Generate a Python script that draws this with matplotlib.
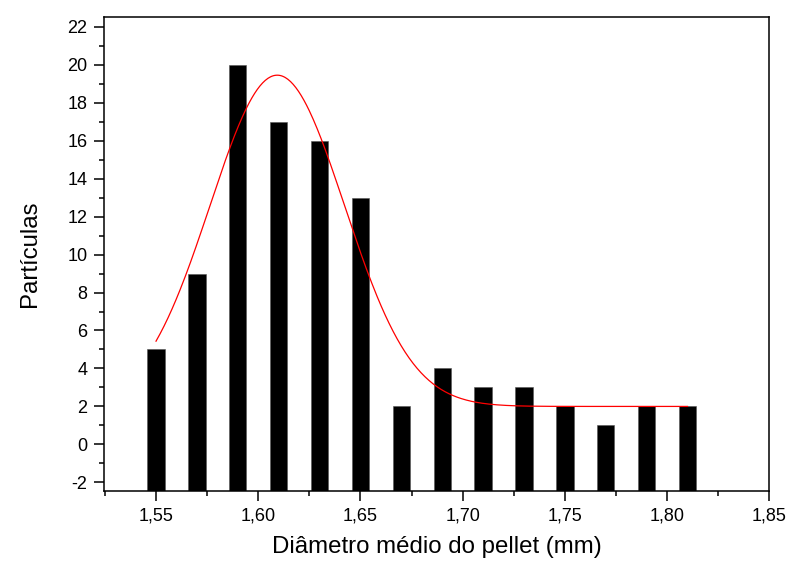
import numpy as np
import matplotlib
matplotlib.use("Agg")
import matplotlib.pyplot as plt
from matplotlib.ticker import MultipleLocator, FuncFormatter

plt.rcParams['font.family'] = ['Liberation Sans', 'DejaVu Sans']

# Data
diameters = [1.55, 1.57, 1.59, 1.61, 1.63, 1.65, 1.67, 1.69, 1.71, 1.73, 1.75, 1.77, 1.79, 1.81]
counts = [5, 9, 20, 17, 16, 13, 2, 4, 3, 3, 2, 1, 2, 2]

# Gaussian fit parameters
fit_y0 = 2.0
fit_A = 17.45
fit_xc = 1.6093
fit_sigma = 0.0329
fit_range = (1.55, 1.81)

xlim = (1.5247, 1.85)
ylim = (-2.44, 22.5)

fig = plt.figure(figsize=(7.89, 5.63), dpi=100)
ax = fig.add_axes([0.1322, 0.1284, 0.975 - 0.1322, 0.9693 - 0.1284])

x = np.array(diameters)
y = np.array(counts, dtype=float)
ax.bar(x, y - ylim[0], bottom=ylim[0], width=0.0085, color='black', edgecolor='#555555', linewidth=0.4, zorder=2)

xf = np.linspace(fit_range[0], fit_range[1], 400)
yf = fit_y0 + fit_A * np.exp(-(xf - fit_xc) ** 2 / (2 * fit_sigma ** 2))
ax.plot(xf, yf, color='red', linewidth=0.9, zorder=3)

ax.set_xlim(*xlim)
ax.set_ylim(*ylim)

ax.xaxis.set_major_locator(MultipleLocator(0.05))
ax.xaxis.set_minor_locator(MultipleLocator(0.025))
ax.yaxis.set_major_locator(MultipleLocator(2))
ax.yaxis.set_minor_locator(MultipleLocator(1))
ax.xaxis.set_major_formatter(FuncFormatter(lambda v, p: f"{v:.2f}".replace('.', ',')))
ax.yaxis.set_major_formatter(FuncFormatter(lambda v, p: f"{int(round(v))}"))

ax.tick_params(which='major', direction='out', length=7.2, width=1.1, labelsize=13, pad=5)
ax.tick_params(which='minor', direction='out', length=3.6, width=1.1)
for s in ax.spines.values():
    s.set_linewidth(1.1)

ax.set_xlabel('Diâmetro médio do pellet (mm)', fontsize=17.3, labelpad=8)
ax.set_ylabel('Partículas', fontsize=17.3, labelpad=19)

fig.savefig('out.png', dpi=100)
